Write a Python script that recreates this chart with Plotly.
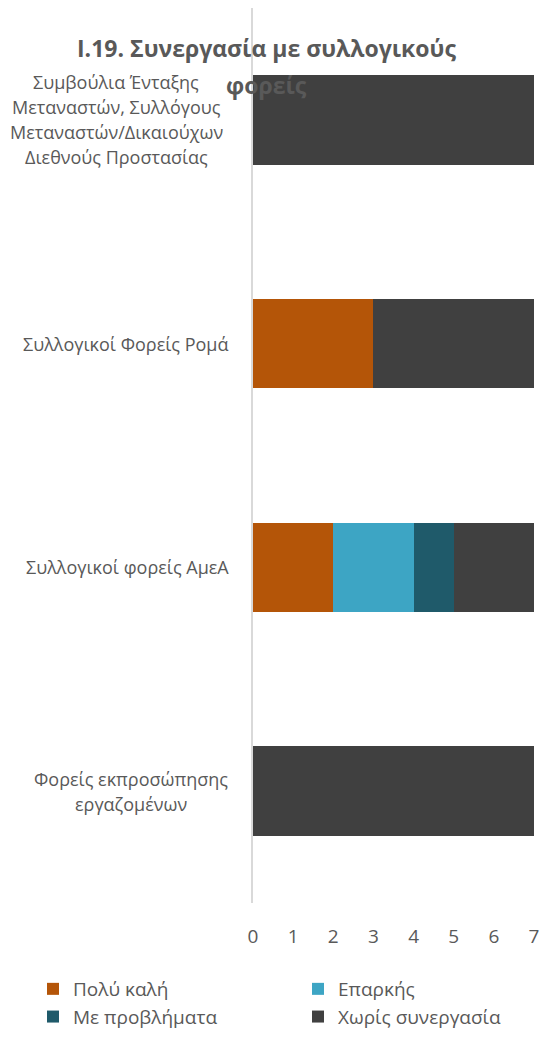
import plotly.graph_objects as go

category_lines = [
    ["Συμβούλια Ένταξης", "Μεταναστών, Συλλόγους", "Μεταναστών/Δικαιούχων", "Διεθνούς Προστασίας"],
    ["Συλλογικοί Φορείς Ρομά"],
    ["Συλλογικοί φορείς ΑμεΑ"],
    ["Φορείς εκπροσώπησης", "εργαζομένων"],
]
categories = [" ".join(lines) for lines in category_lines]
series_names = ["Πολύ καλή", "Επαρκής", "Με προβλήματα", "Χωρίς συνεργασία"]
poly_kali = [0, 3, 2, 0]
eparkis = [0, 0, 2, 0]
me_provlimata = [0, 0, 1, 0]
xoris = [7, 4, 2, 7]
series_values = [poly_kali, eparkis, me_provlimata, xoris]
colors = ["#B45508", "#3DA5C4", "#1F5A6A", "#404040"]
x_ticks = [0, 1, 2, 3, 4, 5, 6, 7]
title_lines = ["I.19. Συνεργασία με συλλογικούς", "φορείς"]

W, H = 541, 1037
ML, MR, MT, MB = 253, 7, 8, 134
FONT = "Open Sans"
GREY = "#595959"
plot_w = W - ML - MR
plot_h = H - MT - MB
label_centers = [116, 125, 127, 131]
label_line_gap = 25


def px_x(p):
    return (p - ML) / plot_w


def px_y(p):
    return 1 - (p - MT) / plot_h


fig = go.Figure()
for name, vals, col in zip(series_names, series_values, colors):
    fig.add_trace(go.Bar(
        y=categories, x=vals, name=name, orientation="h",
        marker=dict(color=col, line=dict(width=0)),
    ))

for cat, lines, cx in zip(categories, category_lines, label_centers):
    n = len(lines)
    for i, line in enumerate(lines):
        fig.add_annotation(
            x=px_x(cx), xref="paper", y=cat, yref="y",
            yshift=-(i - (n - 1) / 2) * label_line_gap,
            text=line, showarrow=False, xanchor="center", yanchor="middle",
            font=dict(family=FONT, size=18, color=GREY),
        )

for line, yc in zip(title_lines, [48, 85]):
    fig.add_annotation(
        x=px_x(266), xref="paper", y=px_y(yc), yref="paper",
        text="<b>" + line + "</b>", showarrow=False,
        xanchor="center", yanchor="middle",
        font=dict(family=FONT, size=23, color=GREY),
    )

fig.update_layout(
    width=W, height=H,
    margin=dict(l=ML, r=MR, t=MT, b=MB, autoexpand=False),
    barmode="stack", bargap=0.6,
    plot_bgcolor="white", paper_bgcolor="white",
    font=dict(family=FONT, color=GREY),
    xaxis=dict(
        range=[0, 7], tickvals=x_ticks, showgrid=False, zeroline=False,
        showline=False, tickfont=dict(family=FONT, size=19, color=GREY),
        ticks="", ticklabelstandoff=20, ticklabeloverflow="allow",
    ),
    yaxis=dict(
        categoryorder="array", categoryarray=categories, autorange="reversed",
        showticklabels=False, showgrid=False, zeroline=False,
        showline=True, linecolor="#D9D9D9", linewidth=2, ticks="",
    ),
    legend=dict(
        orientation="h", x=px_x(33), xanchor="left",
        y=px_y(970), yanchor="top",
        entrywidth=220, entrywidthmode="pixels",
        font=dict(family=FONT, size=19, color=GREY),
        traceorder="normal",
    ),
    showlegend=True,
)

fig.write_html(
    "out.html",
    config={"displayModeBar": False},
    post_script="document.body.style.margin='0';",
)
